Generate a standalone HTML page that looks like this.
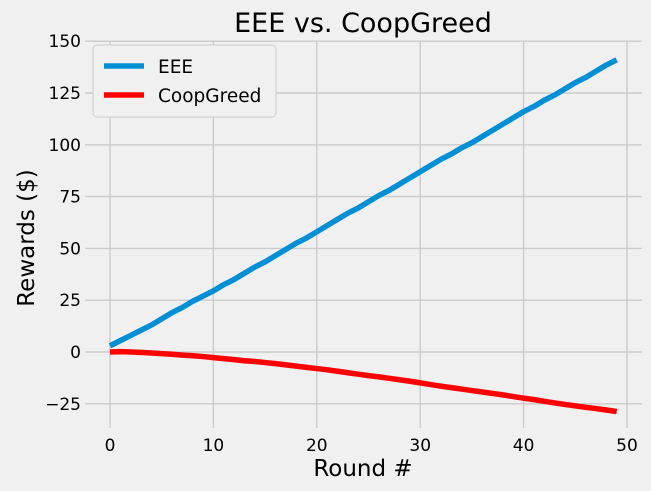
<!DOCTYPE html>
<html><head><meta charset="utf-8"><style>
body{margin:0;background:#f0f0f0;}
svg{display:block;font-family:"DejaVu Sans","Liberation Sans",sans-serif;}
</style></head><body>
<svg id="chart" width="651" height="491" viewBox="0 0 651 491">
<rect width="651" height="491" fill="#f0f0f0"/>
<g id="grid"></g><g id="ticks"></g><g id="series"></g>
<text x="363" y="32" font-size="27" text-anchor="middle" fill="#000">EEE vs. CoopGreed</text>
<text x="363" y="476" font-size="23" text-anchor="middle" fill="#000">Round #</text>
<text transform="translate(34,238) rotate(-90)" font-size="23" text-anchor="middle" fill="#000">Rewards ($)</text>
<g>
<rect x="93" y="45" width="183" height="72" rx="4" fill="#f0f0f0" stroke="#cccccc"/>
<line x1="104" y1="66" x2="144" y2="66" stroke="#008fd5" stroke-width="5.5"/>
<text x="158" y="73" font-size="18.5">EEE</text>
<line x1="104" y1="95" x2="144" y2="95" stroke="#ff0000" stroke-width="5.5"/>
<text x="158" y="102" font-size="18.5">CoopGreed</text>
</g>
</svg>
<script>
const xTicks=[0,10,20,30,40,50];
const yTicks=[-25,0,25,50,75,100,125,150];
const eee=[3,5.5,8,10.5,13,16,19,21.5,24.5,27,29.5,32.5,35,38,41,43.5,46.5,49.5,52.5,55,58,61,64,67,69.5,72.5,75.5,78,81,84,87,90,93,95.5,98.5,101,104,107,110,113,116,118.5,121.5,124,127,130,132.5,135.5,138.5,141];
const coop=[0,0.2,0,-0.2,-0.5,-0.8,-1.1,-1.5,-1.8,-2.2,-2.7,-3.2,-3.7,-4.2,-4.6,-5.1,-5.6,-6.2,-6.8,-7.4,-8,-8.6,-9.3,-10,-10.7,-11.4,-12,-12.7,-13.4,-14.1,-14.9,-15.7,-16.5,-17.2,-17.9,-18.6,-19.3,-20,-20.7,-21.5,-22.3,-23,-23.8,-24.6,-25.3,-26,-26.7,-27.3,-28,-28.7];
const NS="http://www.w3.org/2000/svg";
const L=85,R=642,T=42,B=428;
const xs=v=>110+v*10.34;
const ys=v=>352-v*2.072;
const grid=document.getElementById('grid'),ticks=document.getElementById('ticks'),series=document.getElementById('series');
function mk(tag,attrs,parent){const e=document.createElementNS(NS,tag);for(const k in attrs)e.setAttribute(k,attrs[k]);parent.appendChild(e);return e;}
xTicks.forEach(v=>{
 const g=mk('line',{x1:xs(v),x2:xs(v),y1:T,y2:B,stroke:'#cbcbcb','stroke-width':1.4},grid);
 
 
 const t=mk('text',{x:xs(v),y:B+23,'font-size':17,'text-anchor':'middle'},ticks);
 t.textContent=v;
 
 
});
yTicks.forEach(v=>{
 const g=mk('line',{x1:L,x2:R,y1:ys(v),y2:ys(v),stroke:'#cbcbcb','stroke-width':1.4},grid);
 
 
 const t=mk('text',{x:L-4,y:ys(v)+6,'font-size':17,'text-anchor':'end'},ticks);
 t.textContent=v<0?'\u2212'+Math.abs(v):v;
 
 
});
function line(arr,color,name){
 const p=mk('polyline',{points:arr.map((v,i)=>xs(i)+','+ys(v)).join(' '),fill:'none',stroke:color,'stroke-width':5.5,'stroke-linejoin':'round','stroke-linecap':'butt'},series);
 
 
}
line(eee,'#008fd5','eee-line');
line(coop,'#ff0000','coopgreed-line');
</script>
</body></html>
